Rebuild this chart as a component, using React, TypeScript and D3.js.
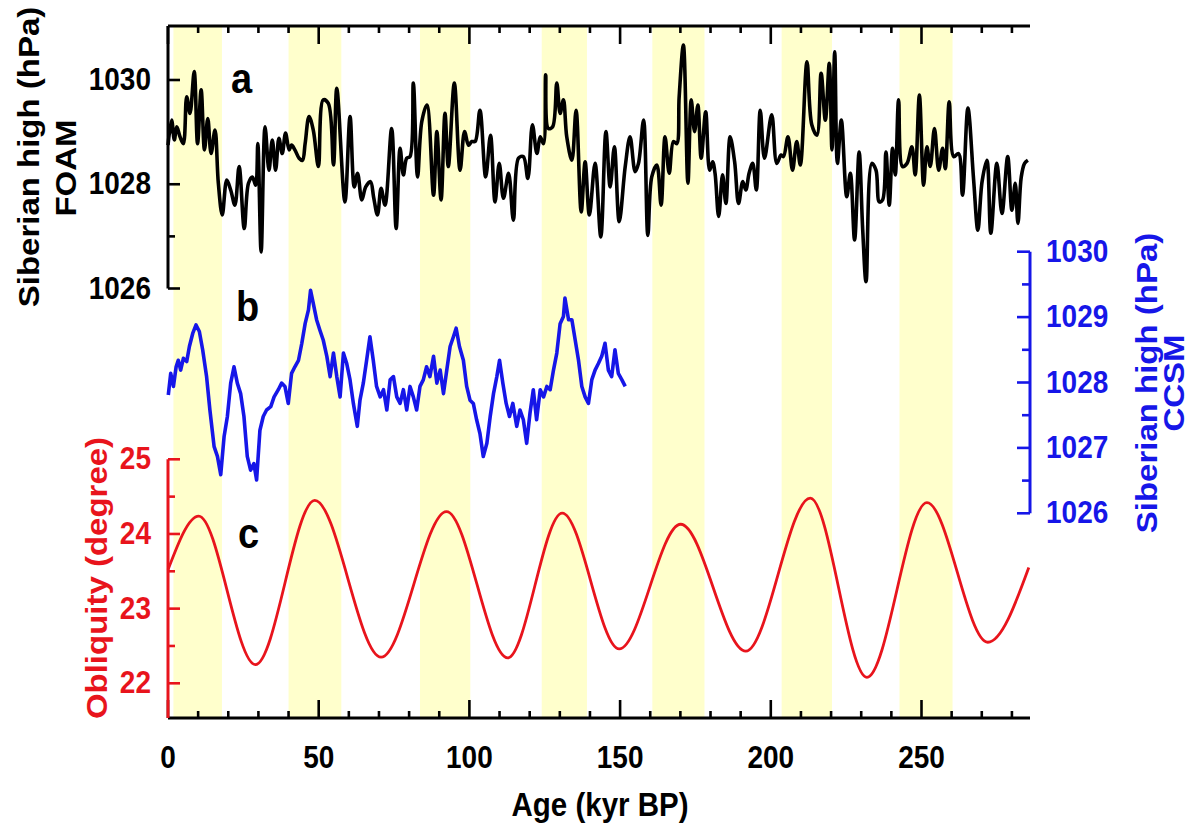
import React from 'react';
import * as d3 from 'd3';

// ---------- DATA ----------
const bandStart = [1.8, 40, 83.6, 124, 160.7, 203.6, 242.7];
const bandEnd = [17.9, 57.5, 100.3, 139, 178, 220.3, 260.3];

const ageMajorTicks = [0, 50, 100, 150, 200, 250];
const ageMinorTicks = [10, 20, 30, 40, 60, 70, 80, 90, 110, 120, 130, 140, 160, 170, 180, 190, 210, 220, 230, 240, 260, 270, 280];

const foamTicks = [1026, 1028, 1030];
const foamMinorTicks = [1027, 1029];
const ccsmTicks = [1026, 1027, 1028, 1029, 1030];
const ccsmMinorTicks = [1026.5, 1027.5, 1028.5, 1029.5];
const oblTicks = [22, 23, 24, 25];
const oblMinorTicks = [22.5, 23.5, 24.5];

// (a) FOAM Siberian high, hPa
const foamAge = [
  0, 1.2, 2.1, 2.9, 4.0, 5.1, 6.2, 7.3, 8.7, 9.8, 11.0, 12.1, 13.2, 14.3, 15.6, 16.7, 18.0, 19.5, 20.8, 22.2,
  23.6, 25.3, 26.7, 28.0, 29.1, 29.8, 30.9, 32.2, 33.5, 34.6, 35.7, 36.8, 37.9, 39.0, 40.2, 41.0, 42.1, 43.5, 44.6, 45.5,
  46.8, 48.2, 49.9, 51.5, 53.2, 54.9, 56.0, 58.7, 60.4, 61.8, 62.9, 64.3, 65.6, 67.2, 68.2, 69.5, 70.7, 72.0, 74.2, 75.7,
  77.0, 78.1, 79.2, 80.3, 81.4, 82.8, 84.2, 85.9, 88.1, 89.2, 90.6, 91.9, 93.0, 95.0, 96.9, 98.4, 99.7, 100.8, 101.9, 103.5,
  105.4, 107.0, 108.5, 109.9, 111.3, 113.0, 114.6, 116.3, 117.9, 119.4, 120.9, 122.4, 123.5, 124.6, 125.3, 126.2, 127.6, 129.0, 130.1, 131.2,
  132.3, 134.0, 135.4, 137.1, 138.4, 139.8, 141.7, 143.6, 145.3, 146.7, 148.1, 149.7, 151.7, 153.3, 155.0, 156.1, 157.8, 159.2, 160.5, 162.2,
  163.6, 164.9, 166.3, 167.7, 168.8, 169.6, 171.0, 172.5, 173.6, 174.7, 175.8, 176.9, 178.4, 179.7, 180.7, 181.5, 182.7, 184.0, 185.1, 186.5,
  188.0, 189.3, 190.7, 191.7, 192.8, 194.0, 195.2, 196.5, 197.9, 200.3, 202.0, 203.4, 204.2, 205.7, 207.2, 208.6, 209.8, 212.0, 213.6, 215.3,
  216.7, 218.1, 219.4, 220.3, 221.2, 222.1, 223.4, 225.2, 226.4, 227.8, 229.3, 230.5, 231.6, 233.5, 234.9, 236.0, 237.1, 238.2, 239.3, 240.4,
  241.3, 242.4, 243.7, 245.2, 246.8, 247.9, 249.3, 250.7, 251.8, 252.9, 254.3, 255.7, 257.0, 257.9, 259.2, 260.7, 262.3, 263.6, 265.4, 267.3,
  268.7, 270.1, 271.7, 273.0, 275.0, 276.7, 278.6, 280.0, 281.1, 282.0, 283.1, 284.2, 285.3
];
const foamValue = [
  1028.75, 1029.23, 1028.85, 1029.10, 1028.91, 1028.78, 1029.68, 1029.36, 1030.16, 1028.78, 1029.81, 1028.66, 1029.26, 1028.59, 1029.04, 1028.02, 1027.41, 1028.08, 1027.89, 1027.60,
  1028.34, 1027.15, 1028.02, 1028.14, 1027.98, 1028.78, 1026.70, 1029.10, 1028.27, 1028.85, 1028.27, 1028.88, 1028.59, 1028.98, 1028.66, 1028.75, 1028.66, 1028.50, 1028.46, 1028.78,
  1029.30, 1029.04, 1028.34, 1029.62, 1029.55, 1028.37, 1029.84, 1027.66, 1029.30, 1027.95, 1028.21, 1027.70, 1027.95, 1028.05, 1027.76, 1027.41, 1027.92, 1027.60, 1029.07, 1027.15,
  1028.69, 1028.18, 1028.50, 1028.53, 1029.94, 1028.14, 1029.20, 1029.52, 1027.79, 1029.01, 1027.70, 1029.36, 1028.34, 1029.94, 1028.27, 1029.01, 1028.75, 1028.82, 1028.82, 1029.42,
  1028.14, 1028.94, 1027.66, 1028.40, 1027.73, 1028.21, 1027.31, 1028.50, 1028.53, 1028.11, 1029.14, 1028.59, 1028.91, 1028.78, 1030.10, 1029.07, 1029.10, 1029.94, 1029.36, 1029.62,
  1028.91, 1028.46, 1029.42, 1027.47, 1028.43, 1027.41, 1028.40, 1026.99, 1029.01, 1027.95, 1028.72, 1027.28, 1028.34, 1028.91, 1028.24, 1028.40, 1029.23, 1027.02, 1028.14, 1028.37,
  1027.60, 1028.91, 1028.21, 1028.82, 1028.78, 1029.68, 1030.67, 1028.02, 1029.62, 1029.01, 1029.52, 1028.50, 1029.39, 1028.27, 1028.43, 1028.21, 1027.38, 1028.18, 1027.63, 1028.91,
  1028.43, 1027.63, 1028.05, 1027.89, 1028.21, 1028.40, 1027.89, 1029.42, 1028.50, 1029.33, 1028.40, 1028.56, 1028.53, 1028.91, 1028.27, 1028.82, 1028.37, 1030.35, 1029.14, 1028.94,
  1030.13, 1029.23, 1030.32, 1028.66, 1030.54, 1028.40, 1029.23, 1027.76, 1028.21, 1026.93, 1028.62, 1027.12, 1026.13, 1028.40, 1028.27, 1027.66, 1027.70, 1028.62, 1027.60, 1028.69,
  1028.18, 1029.62, 1028.34, 1028.40, 1028.72, 1028.18, 1029.71, 1027.98, 1028.72, 1028.34, 1029.07, 1028.27, 1028.69, 1028.30, 1029.58, 1028.53, 1028.59, 1027.79, 1029.46, 1028.08,
  1027.12, 1028.05, 1028.46, 1027.06, 1028.40, 1027.44, 1028.53, 1027.50, 1028.02, 1027.25, 1028.14, 1028.40, 1028.46
];

// (b) CCSM Siberian high, hPa
const ccsmAge = [
  0.1, 0.9, 1.8, 2.7, 3.4, 4.2, 5.1, 6.2, 7.1, 8.2, 9.3, 10.4, 11.5, 12.8, 13.9, 15.3, 16.4, 17.5, 18.6, 19.7,
  20.8, 21.9, 23.0, 24.1, 25.2, 26.3, 27.4, 28.5, 29.4, 30.5, 31.6, 32.7, 34.1, 35.2, 36.6, 37.7, 38.8, 39.9, 41.0, 42.1,
  43.3, 44.4, 45.5, 46.6, 47.3, 48.2, 49.3, 50.4, 51.5, 52.7, 53.8, 54.9, 56.0, 57.1, 58.2, 59.3, 60.4, 61.5, 62.8, 63.7,
  64.8, 65.9, 67.0, 68.1, 69.2, 70.4, 71.5, 72.6, 73.7, 74.8, 75.9, 77.0, 78.1, 79.2, 80.3, 81.4, 82.5, 83.6, 84.7, 85.8,
  86.9, 88.1, 89.2, 90.3, 91.4, 92.5, 93.6, 94.7, 95.6, 96.7, 98.0, 99.1, 100.2, 101.3, 102.4, 103.5, 104.6, 105.8, 106.9, 108.0,
  109.1, 110.0, 111.1, 112.2, 113.3, 114.4, 115.7, 116.8, 117.9, 119.0, 120.1, 121.2, 122.3, 123.5, 124.6, 125.7, 126.8, 127.9, 129.0, 130.1,
  131.2, 131.7, 132.9, 134.0, 135.1, 136.2, 137.3, 138.4, 139.5, 140.6, 141.7, 142.8, 143.9, 145.0, 146.1, 147.2, 148.3, 149.4, 150.6, 151.7
];
const ccsmValue = [
  1027.81, 1028.14, 1027.94, 1028.24, 1028.34, 1028.19, 1028.37, 1028.32, 1028.55, 1028.75, 1028.88, 1028.78, 1028.50, 1028.09, 1027.58, 1027.02, 1026.87, 1026.59, 1027.17, 1027.48,
  1027.99, 1028.24, 1027.99, 1027.83, 1027.48, 1026.87, 1026.66, 1026.76, 1026.51, 1027.27, 1027.48, 1027.58, 1027.63, 1027.78, 1027.89, 1027.99, 1027.94, 1027.68, 1028.14, 1028.24,
  1028.34, 1028.60, 1028.90, 1029.11, 1029.41, 1029.21, 1028.96, 1028.80, 1028.65, 1028.40, 1028.09, 1028.45, 1028.09, 1027.78, 1028.45, 1028.29, 1028.04, 1027.68, 1027.33, 1027.73,
  1027.99, 1028.34, 1028.70, 1028.34, 1027.94, 1027.78, 1027.89, 1027.58, 1028.04, 1028.09, 1027.78, 1027.68, 1027.89, 1027.58, 1027.94, 1027.78, 1027.58, 1027.94, 1028.04, 1028.24,
  1028.09, 1028.40, 1027.99, 1028.19, 1027.83, 1028.19, 1028.55, 1028.70, 1028.83, 1028.55, 1028.34, 1027.94, 1027.73, 1027.68, 1027.43, 1027.22, 1026.87, 1027.07, 1027.48, 1027.83,
  1028.09, 1028.34, 1027.99, 1027.68, 1027.48, 1027.68, 1027.33, 1027.58, 1027.43, 1027.07, 1027.53, 1027.89, 1027.43, 1027.89, 1027.78, 1027.94, 1027.89, 1028.19, 1028.45, 1028.90,
  1029.01, 1029.29, 1028.96, 1028.96, 1028.65, 1028.34, 1027.94, 1027.78, 1027.68, 1028.04, 1028.19, 1028.29, 1028.40, 1028.60, 1028.19, 1028.09, 1028.50, 1028.14, 1028.04, 1027.94
];

// (c) Obliquity, degree (extremes)
const oblAge = [0, 10.2, 29.0, 48.7, 70.7, 92.4, 112.7, 130.8, 149.7, 170.1, 191.7, 213.1, 231.9, 251.8, 272.0, 285.6];
const oblValue = [23.52, 24.24, 22.25, 24.45, 22.35, 24.30, 22.34, 24.28, 22.46, 24.13, 22.43, 24.48, 22.08, 24.42, 22.55, 23.55];

// ---------- CHART ----------
const FONT = '"Liberation Sans", Arial, Helvetica, sans-serif';
const BLUE = '#1616e8';
const RED = '#e8141c';
const YELLOW = '#ffffcc';
const STRETCH = 1.1; // reference text is slightly tall

type TProps = {
  x: number;
  y: number;
  size: number;
  fill: string;
  anchor?: 'start' | 'middle' | 'end';
  rotate?: boolean;
  central?: boolean;
  children: React.ReactNode;
};

function T({ x, y, size, fill, anchor = 'start', rotate = false, central = false, children }: TProps) {
  return (
    <text
      transform={`translate(${x},${y}) scale(1,${STRETCH})${rotate ? ' rotate(-90)' : ''}`}
      textAnchor={anchor}
      dominantBaseline={central ? 'central' : undefined}
      fontSize={size}
      fill={fill}
      style={{ fontFamily: FONT, fontWeight: 700 }}
    >
      {children}
    </text>
  );
}

export default function App() {
  const W = 1193;
  const H = 827;
  const xL = 168;
  const xR = 1030;
  const yTop = 26;
  const yBot = 718;

  const x = d3.scaleLinear().domain([0, 286]).range([xL, xR]);
  const yA = d3.scaleLinear().domain([1026, 1030]).range([288.5, 80]);
  const yB = d3.scaleLinear().domain([1026, 1030]).range([513.3, 251.7]);
  const yC = d3.scaleLinear().domain([22, 25]).range([683.3, 459.3]);

  const lineA = d3.line<number>().x((_, i) => x(foamAge[i])).y((v) => yA(v)).curve(d3.curveCatmullRom.alpha(0.5));
  const lineB = d3.line<number>().x((_, i) => x(ccsmAge[i])).y((v) => yB(v)).curve(d3.curveLinear);
  const lineC = d3.line<number>().x((_, i) => x(oblAge[i])).y((v) => yC(v)).curve(d3.curveMonotoneX);

  const axisW = 3;
  const tickW = 2.6;

  return (
    <svg width={W} height={H} style={{ position: 'absolute', left: 0, top: 0, background: '#fff' }}>
      {/* bands */}
      {bandStart.map((s, i) => (
        <rect key={'band' + i} x={x(s)} y={yTop} width={x(bandEnd[i]) - x(s)} height={yBot - yTop} fill={YELLOW} />
      ))}

      {/* series */}
      <path d={lineB(ccsmValue) || ''} fill="none" stroke={BLUE} strokeWidth={3.6} strokeLinejoin="round" />
      <path d={lineA(foamValue) || ''} fill="none" stroke="#000" strokeWidth={3.6} strokeLinejoin="round" />
      <path d={lineC(oblValue) || ''} fill="none" stroke={RED} strokeWidth={2.8} />

      {/* top axis */}
      <line x1={xL} x2={xR} y1={yTop} y2={yTop} stroke="#000" strokeWidth={axisW} />
      {ageMajorTicks.map((t) => (
        <line key={'tM' + t} x1={x(t)} x2={x(t)} y1={yTop} y2={yTop + 18} stroke="#000" strokeWidth={tickW} />
      ))}
      {ageMinorTicks.map((t) => (
        <line key={'tm' + t} x1={x(t)} x2={x(t)} y1={yTop} y2={yTop + 7} stroke="#000" strokeWidth={tickW} />
      ))}

      {/* bottom axis */}
      <line x1={xL} x2={xR} y1={yBot} y2={yBot} stroke="#000" strokeWidth={axisW} />
      {ageMajorTicks.map((t) => (
        <line key={'bM' + t} x1={x(t)} x2={x(t)} y1={yBot} y2={yBot - 18} stroke="#000" strokeWidth={tickW} />
      ))}
      {ageMinorTicks.map((t) => (
        <line key={'bm' + t} x1={x(t)} x2={x(t)} y1={yBot} y2={yBot - 7} stroke="#000" strokeWidth={tickW} />
      ))}
      {ageMajorTicks.map((t) => (
        <T key={'bl' + t} x={x(t)} y={768} size={28} fill="#000" anchor="middle">
          {t}
        </T>
      ))}
      <T x={600} y={816} size={29.5} fill="#000" anchor="middle">
        Age (kyr BP)
      </T>

      {/* left axis (a) */}
      <line x1={xL} x2={xL} y1={yTop} y2={yA(1026)} stroke="#000" strokeWidth={axisW} />
      {foamTicks.map((t) => (
        <line key={'aM' + t} x1={xL} x2={xL + 12} y1={yA(t)} y2={yA(t)} stroke="#000" strokeWidth={tickW} />
      ))}
      {foamMinorTicks.map((t) => (
        <line key={'am' + t} x1={xL} x2={xL + 7} y1={yA(t)} y2={yA(t)} stroke="#000" strokeWidth={tickW} />
      ))}
      {foamTicks.map((t) => (
        <T key={'al' + t} x={151} y={yA(t) + 10} size={28} fill="#000" anchor="end">
          {t}
        </T>
      ))}
      <T x={29} y={157} size={30} fill="#000" anchor="middle" rotate central>
        Siberian high (hPa)
      </T>
      <T x={66} y={168} size={30} fill="#000" anchor="middle" rotate central>
        FOAM
      </T>

      {/* left axis (c) obliquity */}
      <line x1={xL} x2={xL} y1={yC(25)} y2={yBot} stroke={RED} strokeWidth={axisW} />
      {oblTicks.map((t) => (
        <line key={'cM' + t} x1={xL} x2={xL + 12} y1={yC(t)} y2={yC(t)} stroke={RED} strokeWidth={tickW} />
      ))}
      {oblMinorTicks.map((t) => (
        <line key={'cm' + t} x1={xL} x2={xL + 7} y1={yC(t)} y2={yC(t)} stroke={RED} strokeWidth={tickW} />
      ))}
      {oblTicks.map((t) => (
        <T key={'cl' + t} x={151} y={yC(t) + 10} size={28} fill={RED} anchor="end">
          {t}
        </T>
      ))}
      <T x={97} y={578} size={30} fill={RED} anchor="middle" rotate central>
        Obliquity (degree)
      </T>

      {/* right axis (b) */}
      <line x1={xR} x2={xR} y1={yB(1030)} y2={yB(1026)} stroke={BLUE} strokeWidth={axisW} />
      {ccsmTicks.map((t) => (
        <line key={'rM' + t} x1={xR} x2={xR - 13} y1={yB(t)} y2={yB(t)} stroke={BLUE} strokeWidth={tickW} />
      ))}
      {ccsmMinorTicks.map((t) => (
        <line key={'rm' + t} x1={xR} x2={xR - 8} y1={yB(t)} y2={yB(t)} stroke={BLUE} strokeWidth={tickW} />
      ))}
      {ccsmTicks.map((t) => (
        <T key={'rl' + t} x={1046} y={yB(t) + 10} size={28} fill={BLUE} anchor="start">
          {t}
        </T>
      ))}
      <T x={1147} y={383} size={30} fill={BLUE} anchor="middle" rotate central>
        Siberian high (hPa)
      </T>
      <T x={1174} y={383} size={30} fill={BLUE} anchor="middle" rotate central>
        CCSM
      </T>

      {/* panel letters */}
      <T x={231} y={93} size={38} fill="#000">a</T>
      <T x={236} y={321} size={38} fill="#000">b</T>
      <T x={238} y={548} size={38} fill="#000">c</T>
    </svg>
  );
}
